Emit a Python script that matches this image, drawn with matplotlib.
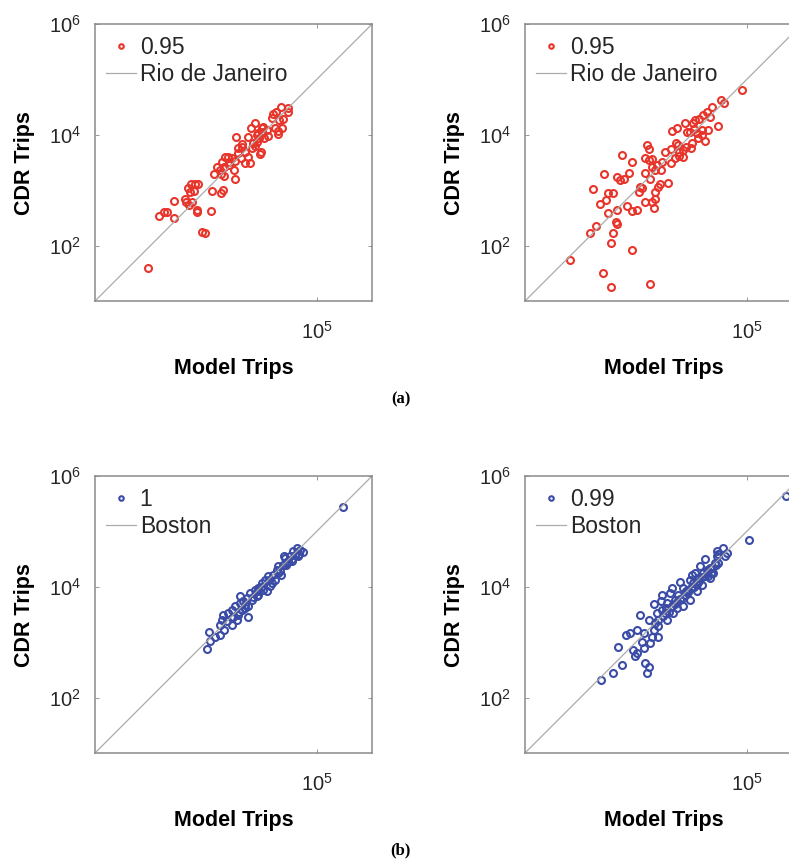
import numpy as np
import matplotlib
matplotlib.use('Agg')
import matplotlib.pyplot as plt

# log10 of trip counts
rio_a_model = [1.96, 2.16, 2.25, 2.30, 2.43, 2.43, 2.62, 2.64, 2.70, 2.75, 2.84, 2.85,
               2.68, 2.73, 2.81, 2.86, 2.71, 2.79, 2.93, 2.99, 3.09, 3.11, 3.27, 3.32,
               3.15, 3.20, 3.33, 3.27, 3.30, 3.35, 3.41, 3.47, 3.51, 3.53, 3.53, 3.42,
               3.59, 3.65, 3.71, 3.71, 3.80, 3.77, 3.55, 3.76, 3.83, 3.86, 3.88, 3.92,
               3.96, 4.01, 4.00, 3.98, 4.04, 4.10, 4.12, 4.06, 3.92, 4.19, 4.22, 4.26,
               4.36, 4.48, 4.49, 4.32, 4.40, 4.37, 4.30, 4.31, 4.25, 3.82, 3.64, 3.66,
               3.59, 3.33, 3.26, 3.42, 3.94, 4.01, 3.89]
rio_a_cdr = [1.60, 2.53, 2.60, 2.60, 2.50, 2.81, 2.85, 2.78, 2.73, 2.79, 2.64, 2.61,
             3.05, 3.11, 3.12, 3.11, 2.97, 2.99, 2.25, 2.22, 2.62, 2.99, 2.96, 3.00,
             3.30, 3.42, 3.26, 3.30, 3.51, 3.60, 3.60, 3.58, 3.36, 3.21, 3.53, 3.45,
             3.76, 3.79, 3.69, 3.49, 3.49, 3.60, 3.97, 3.97, 3.76, 3.85, 4.22, 4.00,
             3.94, 4.06, 3.69, 3.65, 4.15, 4.09, 3.98, 3.94, 3.88, 4.30, 4.37, 4.41,
             4.51, 4.49, 4.42, 4.27, 4.29, 4.12, 4.07, 4.01, 4.12, 4.13, 3.59, 3.83,
             3.68, 3.42, 3.36, 3.51, 4.03, 4.12, 3.80]

rio_b_model = [1.81, 2.40, 2.55, 3.26, 2.94, 2.56, 2.59, 2.17, 2.29, 2.67, 2.64, 2.67,
               2.49, 2.84, 2.94, 3.03, 2.35, 2.47, 2.49, 2.58, 2.23, 2.43, 2.67, 2.71,
               2.79, 2.88, 2.76, 2.93, 3.08, 3.06, 3.17, 3.32, 3.29, 3.35, 3.35, 3.41,
               3.44, 3.59, 3.17, 3.26, 3.29, 3.35, 3.23, 3.17, 3.23, 3.21, 3.29, 3.38,
               3.45, 3.48, 3.53, 3.64, 3.64, 3.72, 3.77, 3.78, 3.86, 3.86, 3.78, 4.00,
               4.02, 3.65, 3.74, 3.88, 3.98, 4.04, 4.06, 4.10, 4.13, 4.25, 4.19, 4.30,
               4.14, 4.22, 4.28, 4.38, 4.34, 4.48, 4.53, 4.60, 4.07, 3.71, 3.91, 3.12,
               4.19, 3.92, 4.91]
rio_b_cdr = [1.74, 1.50, 1.25, 1.30, 1.93, 2.04, 2.23, 2.23, 2.35, 2.39, 2.43, 2.64,
             2.59, 2.71, 2.63, 2.64, 2.75, 2.82, 2.96, 2.96, 3.03, 3.30, 3.24, 3.18,
             3.20, 3.32, 3.63, 3.52, 3.06, 2.97, 2.79, 2.68, 2.79, 2.85, 2.97, 3.06,
             3.12, 3.14, 3.32, 3.21, 3.42, 3.36, 3.55, 3.59, 3.74, 3.81, 3.56, 3.45,
             3.36, 3.51, 3.69, 3.74, 3.49, 3.86, 3.82, 3.69, 3.73, 3.60, 3.62, 3.76,
             3.86, 4.07, 4.13, 4.21, 4.06, 4.21, 4.10, 4.03, 3.94, 3.89, 4.09, 4.09,
             4.28, 4.36, 4.42, 4.51, 4.33, 4.16, 4.63, 4.58, 4.27, 3.58, 3.79, 3.05,
             4.00, 4.06, 4.82]

bos_a_model = [3.03, 3.08, 3.06, 3.17, 3.26, 3.33, 3.26, 3.29, 3.32, 3.41, 3.47, 3.56,
               3.47, 3.53, 3.62, 3.62, 3.71, 3.76, 3.74, 3.80, 3.83, 3.92, 3.95, 4.01,
               4.07, 4.16, 4.12, 4.22, 4.25, 4.28, 4.34, 4.40, 4.43, 4.46, 4.52, 4.58,
               4.64, 4.70, 4.76, 4.67, 4.56, 4.42, 4.31, 4.19, 3.77, 3.59, 3.38, 3.89,
               4.04, 4.10, 3.65, 3.95, 4.36, 4.49, 4.61, 4.68, 3.47, 3.68, 3.50, 3.70,
               3.85, 4.00, 4.15, 4.30, 4.45, 4.55, 3.60, 3.95, 5.47]
bos_a_cdr = [2.88, 3.03, 3.18, 3.10, 3.14, 3.23, 3.32, 3.41, 3.50, 3.53, 3.44, 3.41,
             3.59, 3.65, 3.83, 3.71, 3.62, 3.45, 3.80, 3.89, 3.77, 3.83, 3.98, 4.07,
             4.13, 4.01, 4.19, 4.22, 4.13, 4.31, 4.28, 4.40, 4.52, 4.43, 4.55, 4.64,
             4.70, 4.67, 4.63, 4.55, 4.46, 4.55, 4.37, 4.07, 3.65, 3.50, 3.38, 3.95,
             3.95, 3.92, 3.59, 3.86, 4.22, 4.46, 4.58, 4.59, 3.32, 3.74, 3.45, 3.68,
             3.82, 4.00, 4.12, 4.25, 4.40, 4.50, 3.55, 3.93, 5.44]

bos_b_model = [2.37, 2.58, 2.75, 2.68, 2.95, 2.99, 3.02, 3.14, 3.12, 3.17, 3.24, 3.21,
               2.82, 2.90, 3.08, 3.02, 3.14, 3.29, 3.32, 3.41, 3.23, 3.32, 3.38, 3.47,
               3.45, 3.56, 3.62, 3.65, 3.74, 3.71, 3.80, 3.85, 3.89, 3.95, 3.98, 4.04,
               4.10, 4.13, 4.19, 4.22, 4.25, 4.31, 4.34, 4.40, 4.43, 4.49, 4.47, 4.58,
               4.64, 4.61, 4.34, 3.98, 3.53, 3.68, 3.56, 3.35, 4.07, 4.16, 3.86, 3.77,
               4.28, 4.49, 3.41, 3.26, 3.47, 3.65, 4.01, 4.46, 3.50, 3.60, 3.70, 3.80,
               3.90, 4.00, 4.05, 4.15, 4.20, 4.30, 4.38, 4.45, 3.40, 3.55, 3.75, 3.85,
               3.95, 4.10, 4.25, 4.35, 5.04, 5.71]
bos_b_cdr = [2.32, 2.45, 2.59, 2.92, 2.86, 2.76, 2.81, 2.90, 3.01, 2.62, 2.56, 2.45,
             3.14, 3.17, 3.50, 3.23, 3.17, 3.10, 3.23, 3.10, 3.41, 3.69, 3.53, 3.59,
             3.74, 3.71, 3.89, 3.65, 3.62, 3.77, 4.08, 3.66, 3.86, 3.95, 3.77, 4.07,
             3.92, 4.16, 4.04, 4.25, 4.50, 4.19, 4.34, 4.25, 4.43, 4.43, 4.64, 4.70,
             4.61, 4.55, 4.16, 4.13, 3.53, 3.53, 3.41, 3.35, 4.25, 4.37, 3.98, 3.86,
             4.31, 4.60, 3.29, 2.99, 3.86, 3.98, 4.22, 4.55, 3.48, 3.55, 3.70, 3.78,
             3.92, 3.98, 4.00, 4.10, 4.18, 4.28, 4.35, 4.40, 3.40, 3.62, 3.72, 3.80,
             3.90, 4.05, 4.20, 4.25, 4.85, 5.64]

panels = [
    (rio_a_model, rio_a_cdr, '0.95', 'Rio de Janeiro', '#e8352b'),
    (rio_b_model, rio_b_cdr, '0.95', 'Rio de Janeiro', '#e8352b'),
    (bos_a_model, bos_a_cdr, '1', 'Boston', '#3b4ca6'),
    (bos_b_model, bos_b_cdr, '0.99', 'Boston', '#3b4ca6'),
]

SANS = 'Liberation Sans'
TXT = '#262626'
plt.rcParams['font.family'] = SANS
plt.rcParams['mathtext.fontset'] = 'custom'
plt.rcParams['mathtext.rm'] = SANS

fig = plt.figure(figsize=(7.89, 8.65), dpi=100)

# axes boxes in figure fractions (right column runs off the page, as in the source)
positions = [
    [0.1204, 0.652, 0.351, 0.320],
    [0.6654, 0.652, 0.351, 0.320],
    [0.1204, 0.1295, 0.351, 0.320],
    [0.6654, 0.1295, 0.351, 0.320],
]

for pos, (mx, cy, r_label, city, color) in zip(positions, panels):
    ax = fig.add_axes(pos)
    ax.set_xscale('log')
    ax.set_yscale('log')
    pts, = ax.plot(10 ** np.array(mx), 10 ** np.array(cy), 'o', mfc='none',
                   mec=color, ms=5.0, mew=1.5, label=r_label)
    diag, = ax.plot([1e1, 1e6], [1e1, 1e6], color='#ababab', lw=0.9, label=city)
    ax.set_xlim(1e1, 1e6)
    ax.set_ylim(1e1, 1e6)
    ax.set_xticks([1e5])
    ax.set_yticks([1e2, 1e4, 1e6])
    ax.minorticks_off()
    ax.tick_params(direction='in', length=3, width=0.6, colors='#888888',
                   labelcolor=TXT, labelsize=14.5, top=True, right=True, pad=10)
    ax.tick_params(axis='x', pad=14)
    for sp in ax.spines.values():
        sp.set_color('#8a8a8a')
        sp.set_linewidth(1.1)
    ax.set_xlabel('Model Trips', fontsize=15.5, fontweight='bold', labelpad=11)
    ax.set_ylabel('CDR Trips', fontsize=15.5, fontweight='bold', labelpad=10)
    leg = ax.legend(handles=[pts, diag], loc='upper left', frameon=False,
                    fontsize=16.5, markerscale=0.65, handlelength=1.3,
                    handletextpad=0.15, labelspacing=0.2, borderaxespad=0.2,
                    borderpad=0.3)
    for t in leg.get_texts():
        t.set_color(TXT)

fig.text(0.508, 0.538, '(a)', ha='center', va='center', fontsize=12,
         fontweight='bold', family='Liberation Serif')
fig.text(0.508, 0.017, '(b)', ha='center', va='center', fontsize=12,
         fontweight='bold', family='Liberation Serif')

fig.savefig('out.png', dpi=100)
